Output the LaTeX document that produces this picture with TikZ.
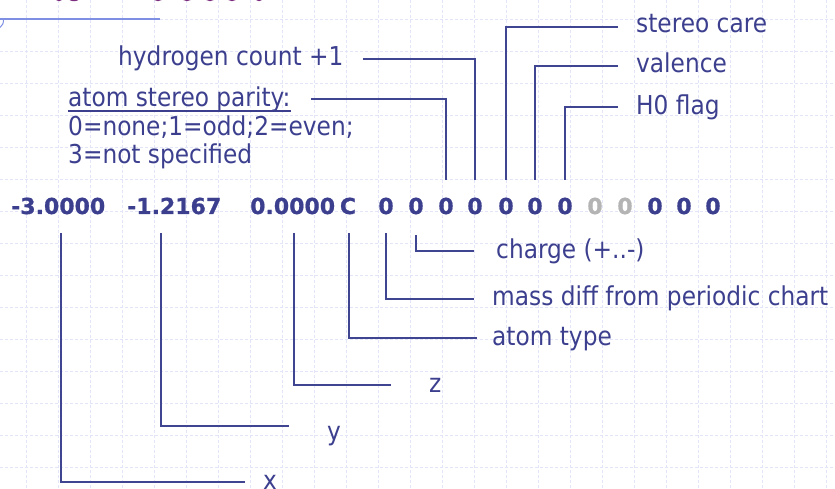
\documentclass[tikz,border=0pt]{standalone}
\usepackage{fontspec}
\setmainfont[FakeStretch=0.895]{DejaVu Sans}
\newfontfamily\digitfont{DejaVu Sans}[BoldFeatures={FakeBold=0.8}]

\definecolor{ink}{HTML}{3C3F8E}
\definecolor{wirecol}{HTML}{3F4590}
\definecolor{faded}{HTML}{B4B4B4}
\definecolor{gridcol}{HTML}{E2E5F8}
\definecolor{rulecol}{HTML}{7F90E4}
\definecolor{titlecol}{HTML}{7B2C7E}

\tikzset{
  lbl/.style={font=\fontsize{26}{30}\selectfont, text=ink, inner sep=0pt, anchor=base west},
  num/.style={font=\digitfont\bfseries\fontsize{22}{26}\selectfont, text=ink, inner sep=0pt, anchor=base},
  numw/.style={num, anchor=base west},
  grey/.style={num, text=faded},
  wire/.style={draw=wirecol, line width=1.3pt},
  gridline/.style={draw=gridcol, line width=0.8pt, dash pattern=on 3pt off 2pt},
}

\begin{document}
\begin{tikzpicture}[x=1pt,y=-1pt]
\useasboundingbox (0,0) rectangle (835,489);
\clip (0,0) rectangle (835,489);

% background grid
\foreach \gx in {26,58,...,826} \draw[gridline] (\gx,0) -- (\gx,489);
\foreach \gy in {19.5,51.5,...,483.5} \draw[gridline] (0,\gy) -- (835,\gy);

% slide header remnants
\foreach \tx/\tw in {59/4,74/6,158/5,187/5,210/5,232/5,259/4}
  \fill[titlecol] (\tx,-2.6) ellipse ({\tw pt} and 3.8pt);
\draw[rulecol, line width=1.2pt] (0,19) -- (160,19);
\draw[rulecol, line width=1pt] (3.5,19) .. controls (4,23) and (2,26) .. (0,27.5);

% the atom line
\node[numw] (n1) at (11,214) {-3.0000};
\node[numw] (n2) at (127,214) {-1.2167};
\node[numw] (n3) at (250,214) {0.0000};
\node[num]  (nc) at (348,214) {C};
\node[num]  (z1)  at (386,214) {0};
\node[num]  (z2)  at (416,214) {0};
\node[num]  (z3)  at (446,214) {0};
\node[num]  (z4)  at (475,214) {0};
\node[num]  (z5)  at (506,214) {0};
\node[num]  (z6)  at (535,214) {0};
\node[num]  (z7)  at (565,214) {0};
\node[grey] (z8)  at (595,214) {0};
\node[grey] (z9)  at (625,214) {0};
\node[num]  (z10) at (655,214) {0};
\node[num]  (z11) at (684,214) {0};
\node[num]  (z12) at (713,214) {0};

% upper labels
\node[lbl] (lsc)  at (636,33)  {stereo care};
\node[lbl] (lval) at (636,73)  {valence};
\node[lbl] (lh0)  at (636,115) {H0 flag};
\node[lbl] (lhyd) at (118,66)  {hydrogen count +1};
\node[lbl] (lpar) at (68,107)  {atom stereo parity:};
\node[lbl] (lpar2) at (68,136) {0=none;1=odd;2=even;};
\node[lbl] (lpar3) at (68,164) {3=not specified};
\draw[ink, line width=1.8pt] ([yshift=-4pt]lpar.base west) -- ([yshift=-4pt]lpar.base east);

% lower labels
\node[lbl] (lchg)  at (496,258) {charge (+..-)};
\node[lbl] (lmass) at (492,305) {mass diff from periodic chart};
\node[lbl] (ltype) at (492,345) {atom type};
\node[lbl] (lz)    at (429,392) {z};
\node[lbl] (ly)    at (327,440) {y};
\node[lbl] (lx)    at (263,489) {x};

% connectors above the line
\draw[wire] ([yshift=34pt]z3.base) |- ([xshift=20pt,yshift=8pt]lpar.base east);
\draw[wire] ([yshift=34pt]z4.base) |- ([xshift=19pt,yshift=7pt]lhyd.base east);
\draw[wire] ([yshift=34pt]z5.base) |- ([xshift=-18pt,yshift=6pt]lsc.base west);
\draw[wire] ([yshift=34pt]z6.base) |- ([xshift=-18pt,yshift=7pt]lval.base west);
\draw[wire] ([yshift=34pt]z7.base) |- ([xshift=-18pt,yshift=8pt]lh0.base west);

% connectors below the line
\draw[wire] ([yshift=-21pt]z2.base) |- ([xshift=-22pt,yshift=7pt]lchg.base west);
\draw[wire] ([yshift=-19pt]z1.base) |- ([xshift=-18pt,yshift=6pt]lmass.base west);
\draw[wire] ([xshift=1pt,yshift=-19pt]nc.base) |- ([xshift=-15pt,yshift=7pt]ltype.base west);
\draw[wire] ([xshift=44pt,yshift=-19pt]n3.base west) |- ([xshift=-38pt,yshift=7pt]lz.base west);
\draw[wire] ([xshift=34pt,yshift=-19pt]n2.base west) |- ([xshift=-38pt,yshift=14pt]ly.base west);
\draw[wire] ([xshift=50pt,yshift=-19pt]n1.base west) |- ([xshift=-18pt,yshift=7pt]lx.base west);
\end{tikzpicture}
\end{document}
